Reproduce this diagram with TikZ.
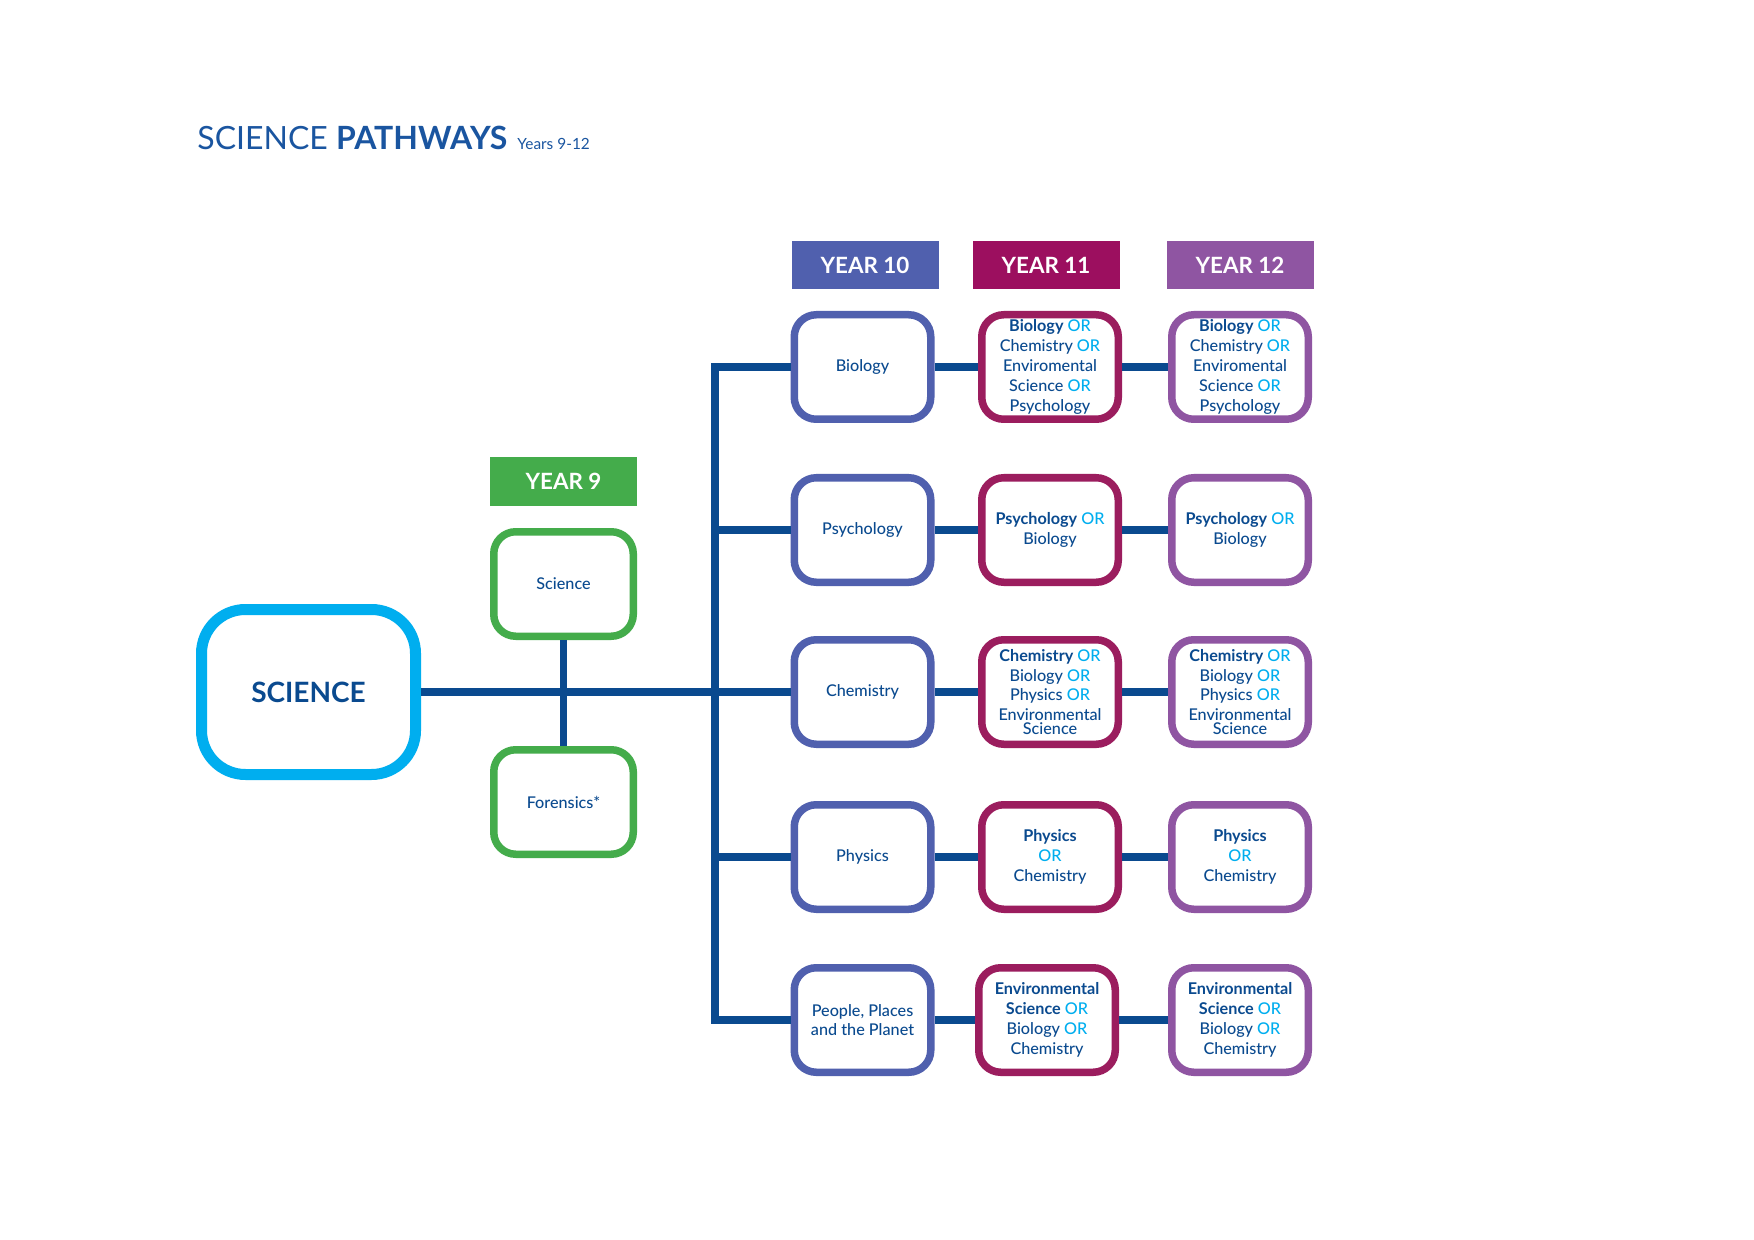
\documentclass[tikz,border=0pt]{standalone}
\usepackage{fontspec}
\setmainfont{Lato}[UprightFont={* Medium}, BoldFont={* Bold}]
\newfontfamily\titlefont{Lato}
\definecolor{dblue}{HTML}{0A4A8F}
\definecolor{tblue}{HTML}{1A55A0}
\definecolor{ccyan}{HTML}{00AEEF}
\definecolor{cgreen}{HTML}{44AC4B}
\definecolor{cten}{HTML}{5060AE}
\definecolor{celevenh}{HTML}{9C0F5F}
\definecolor{celeven}{HTML}{9B1D5E}
\definecolor{ctwelve}{HTML}{8F55A2}
\newcommand\ORc{\textcolor{ccyan}{OR}}
\tikzset{
  box/.style={draw, fill=white, line width=3.75pt, rounded corners=11pt,
    minimum width=68.25pt, minimum height=52.25pt, inner sep=0pt,
    align=center, text=dblue, font=\fontsize{8.1}{9.9}\selectfont},
  boxten/.style={box, draw=cten},
  boxeleven/.style={box, draw=celeven},
  boxtwelve/.style={box, draw=ctwelve},
  boxnine/.style={box, draw=cgreen, minimum width=69.75pt},
  hdr/.style={minimum width=73.5pt, minimum height=24pt, inner sep=0pt,
    text=white, font=\fontsize{11.2}{12}\selectfont\bfseries},
  link/.style={draw=dblue, line width=3.75pt},
}
\begin{document}
\begin{tikzpicture}[x=0.5pt,y=-0.5pt]
\useasboundingbox[fill=white] (0,0) rectangle (1754,1240);

% title
\node[anchor=base west, inner sep=0pt, text=tblue] (title) at (197,150)
  {\titlefont\fontsize{16}{16}\selectfont SCIENCE \bfseries PATHWAYS\hspace{5pt}\mdseries\fontsize{7.7}{8}\selectfont Years 9-12};

% headers
\node[hdr, fill=cgreen] (h9) at (563.5,481.5) {YEAR 9};
\node[hdr, fill=cten] (h10) at (865,265) {YEAR 10};
\node[hdr, fill=celevenh] (h11) at (1046,265) {YEAR 11};
\node[hdr, fill=ctwelve] (h12) at (1240,265) {YEAR 12};

% main box
\node[draw=ccyan, fill=white, line width=5.5pt, rounded corners=22pt,
  minimum width=107pt, minimum height=82.5pt, inner sep=0pt, text=dblue,
  font=\fontsize{14}{15}\selectfont\bfseries] (sci) at (308.5,692) {SCIENCE};

% year 9
\node[boxnine] (sciencenine) at (563.5,584) {Science};
\node[boxnine] (forensics) at (563.5,802) {Forensics*};

% year 10
\node[boxten] (bioten) at (862.5,367) {Biology};
\node[boxten] (psyten) at (862.5,530) {Psychology};
\node[boxten] (chemten) at (862.5,692) {Chemistry};
\node[boxten] (phyten) at (862.5,857) {Physics};
\node[boxten] (ppten) at (862.5,1020) {People, Places\\and the Planet};

% year 11
\node[boxeleven] (bioeleven) at (1050,367) {\textbf{Biology} \ORc\\Chemistry \ORc\\Enviromental\\Science \ORc\\Psychology};
\node[boxeleven] (psyeleven) at (1050,530) {\textbf{Psychology} \ORc\\Biology};
\node[boxeleven] (chemeleven) at (1050,692) {\textbf{Chemistry} \ORc\\Biology \ORc\\Physics \ORc\\Environmental\\[-3pt]Science};
\node[boxeleven] (phyeleven) at (1050,857) {\textbf{Physics}\\\ORc\\Chemistry};
\node[boxeleven] (enveleven) at (1047,1020) {\textbf{Environmental}\\\textbf{Science} \ORc\\Biology \ORc\\Chemistry};

% year 12
\node[boxtwelve] (biotwelve) at (1240,367) {\textbf{Biology} \ORc\\Chemistry \ORc\\Enviromental\\Science \ORc\\Psychology};
\node[boxtwelve] (psytwelve) at (1240,530) {\textbf{Psychology} \ORc\\Biology};
\node[boxtwelve] (chemtwelve) at (1240,692) {\textbf{Chemistry} \ORc\\Biology \ORc\\Physics \ORc\\Environmental\\[-3pt]Science};
\node[boxtwelve] (phytwelve) at (1240,857) {\textbf{Physics}\\\ORc\\Chemistry};
\node[boxtwelve] (envtwelve) at (1240,1020) {\textbf{Environmental}\\\textbf{Science} \ORc\\Biology \ORc\\Chemistry};

% trunk coordinates
\coordinate (ttwo) at (715,530);
\coordinate (tfour) at (715,857);
\coordinate (tfive) at (715,1020);

% connectors
\draw[link] (sci.east) -- (chemten.west);
\draw[link] (sciencenine.south) -- (forensics.north);
\draw[link, line join=miter] (bioten.west) -| (tfive) -- (ppten.west);
\draw[link] (ttwo) -- (psyten.west);
\draw[link] (tfour) -- (phyten.west);

\draw[link] (bioten.east) -- (bioeleven.west);
\draw[link] (psyten.east) -- (psyeleven.west);
\draw[link] (chemten.east) -- (chemeleven.west);
\draw[link] (phyten.east) -- (phyeleven.west);
\draw[link] (ppten.east) -- (enveleven.west);

\draw[link] (bioeleven.east) -- (biotwelve.west);
\draw[link] (psyeleven.east) -- (psytwelve.west);
\draw[link] (chemeleven.east) -- (chemtwelve.west);
\draw[link] (phyeleven.east) -- (phytwelve.west);
\draw[link] (enveleven.east) -- (envtwelve.west);
\end{tikzpicture}
\end{document}
